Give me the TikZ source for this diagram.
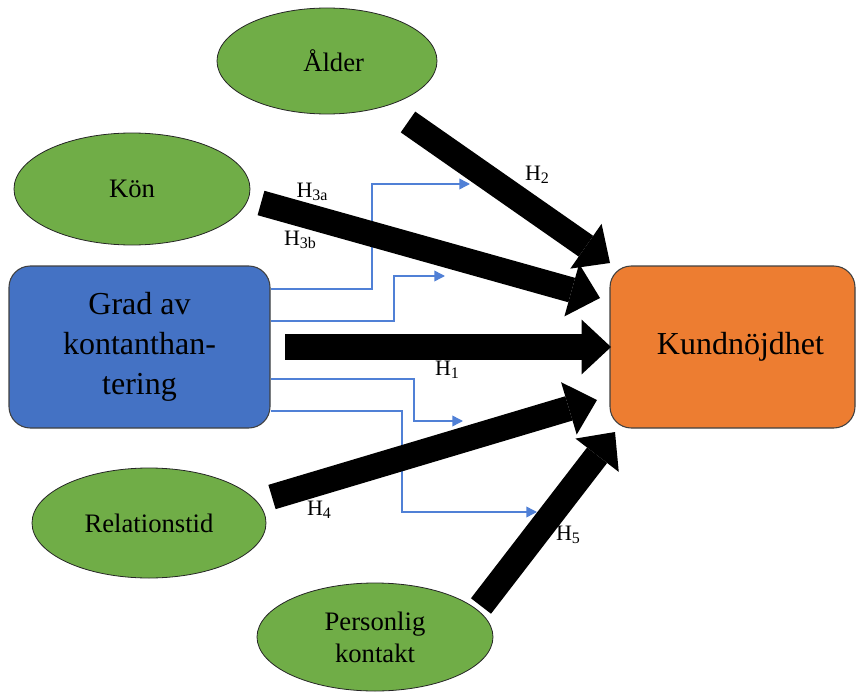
\documentclass[tikz,border=0pt]{standalone}
\usepackage{fontspec}
\setmainfont{Liberation Serif}
\usetikzlibrary{arrows.meta,shapes.geometric,calc}
\definecolor{oblue}{RGB}{68,114,196}
\definecolor{lblue}{RGB}{80,128,214}
\definecolor{ogreen}{RGB}{112,173,71}
\definecolor{oorange}{RGB}{237,125,49}
\newcommand\hyp[1]{H\raisebox{-0.35ex}{\fontsize{12}{12}\selectfont #1}}
\begin{document}
\begin{tikzpicture}[x=0.75pt,y=-0.75pt,
  factor/.style={ellipse, draw=black!85, line width=0.6pt, fill=ogreen,
    inner sep=0pt, align=center, font=\fontsize{20}{24}\selectfont},
  mainbox/.style={rectangle, rounded corners=16pt, draw=black!75, line width=0.8pt,
    inner sep=0pt, align=center, font=\fontsize{24}{30}\selectfont},
  fatarrow/.style={line width=19pt, black,
    -{Triangle[length=22pt,width=41pt,line width=0pt]}},
  blueflow/.style={draw=lblue, line width=1.1pt,
    -{Triangle[length=8pt,width=8pt]}},
  hlabel/.style={inner sep=0pt, font=\fontsize{16.5}{18}\selectfont}]
\useasboundingbox (0,0) rectangle (857,692);

% nodes
\node[mainbox, fill=oblue, minimum width=195.75pt, minimum height=121.5pt]
  (grad) at (139.5,347) {Grad av\\kontanthan-\\tering};
\node[mainbox, fill=oorange, minimum width=183.75pt, minimum height=121.5pt]
  (kund) at (732.5,347) {\hspace*{12pt}Kundnöjdhet};
\node[factor, minimum width=165pt, minimum height=79.5pt] (alder) at (327,61) {\hspace*{10pt}Ålder};
\node[factor, minimum width=177pt, minimum height=84pt] (kon) at (132,189) {Kön};
\node[factor, minimum width=175.5pt, minimum height=82.5pt] (rel) at (149,523) {Relationstid};
\node[factor, minimum width=177pt, minimum height=81pt] (pers) at (375,637) {Personlig\\kontakt};

% named end points
\coordinate (b1) at (470,184);
\coordinate (b2) at (445,276);
\coordinate (b3) at (463,421);
\coordinate (b4) at (537,512);

\coordinate (h1s) at (285,347);
\coordinate (h1t) at (611,347);
\coordinate (h2s) at (408,122);
\coordinate (h2t) at (610,263);
\coordinate (h3s) at (261,203);
\coordinate (h3t) at (600,298);
\coordinate (h4s) at (272,497);
\coordinate (h4t) at (597,400);
\coordinate (h5s) at (481,606);
\coordinate (h5t) at (615,432);

% blue moderator lines
\draw[blueflow] ($(grad.east)+(0,-58)$) -| ($(b1)+(-98,0)$) -- (b1);
\draw[blueflow] ($(grad.east)+(0,-26)$) -| ($(b2)+(-51,0)$) -- (b2);
\draw[blueflow] ($(grad.east)+(0,32)$) -| ($(b3)+(-49,0)$) -- (b3);
\draw[blueflow] ($(grad.east)+(0,64)$) -| ($(b4)+(-135,0)$) -- (b4);

% black hypothesis arrows
\draw[fatarrow] (h1s) -- (h1t);
\draw[fatarrow] (h2s) -- (h2t);
\draw[fatarrow] (h3s) -- (h3t);
\draw[fatarrow] (h4s) -- (h4t);
\draw[fatarrow] (h5s) -- (h5t);

% labels
\node[hlabel] (l1) at (447,370) {\hyp{1}};
\node[hlabel] (l2) at (537,175) {\hyp{2}};
\node[hlabel] (l3a) at (312,192) {\hyp{3a}};
\node[hlabel] (l3b) at (300,240) {\hyp{3b}};
\node[hlabel] (l4) at (319,510) {\hyp{4}};
\node[hlabel] (l5) at (568,535) {\hyp{5}};
\end{tikzpicture}
\end{document}
